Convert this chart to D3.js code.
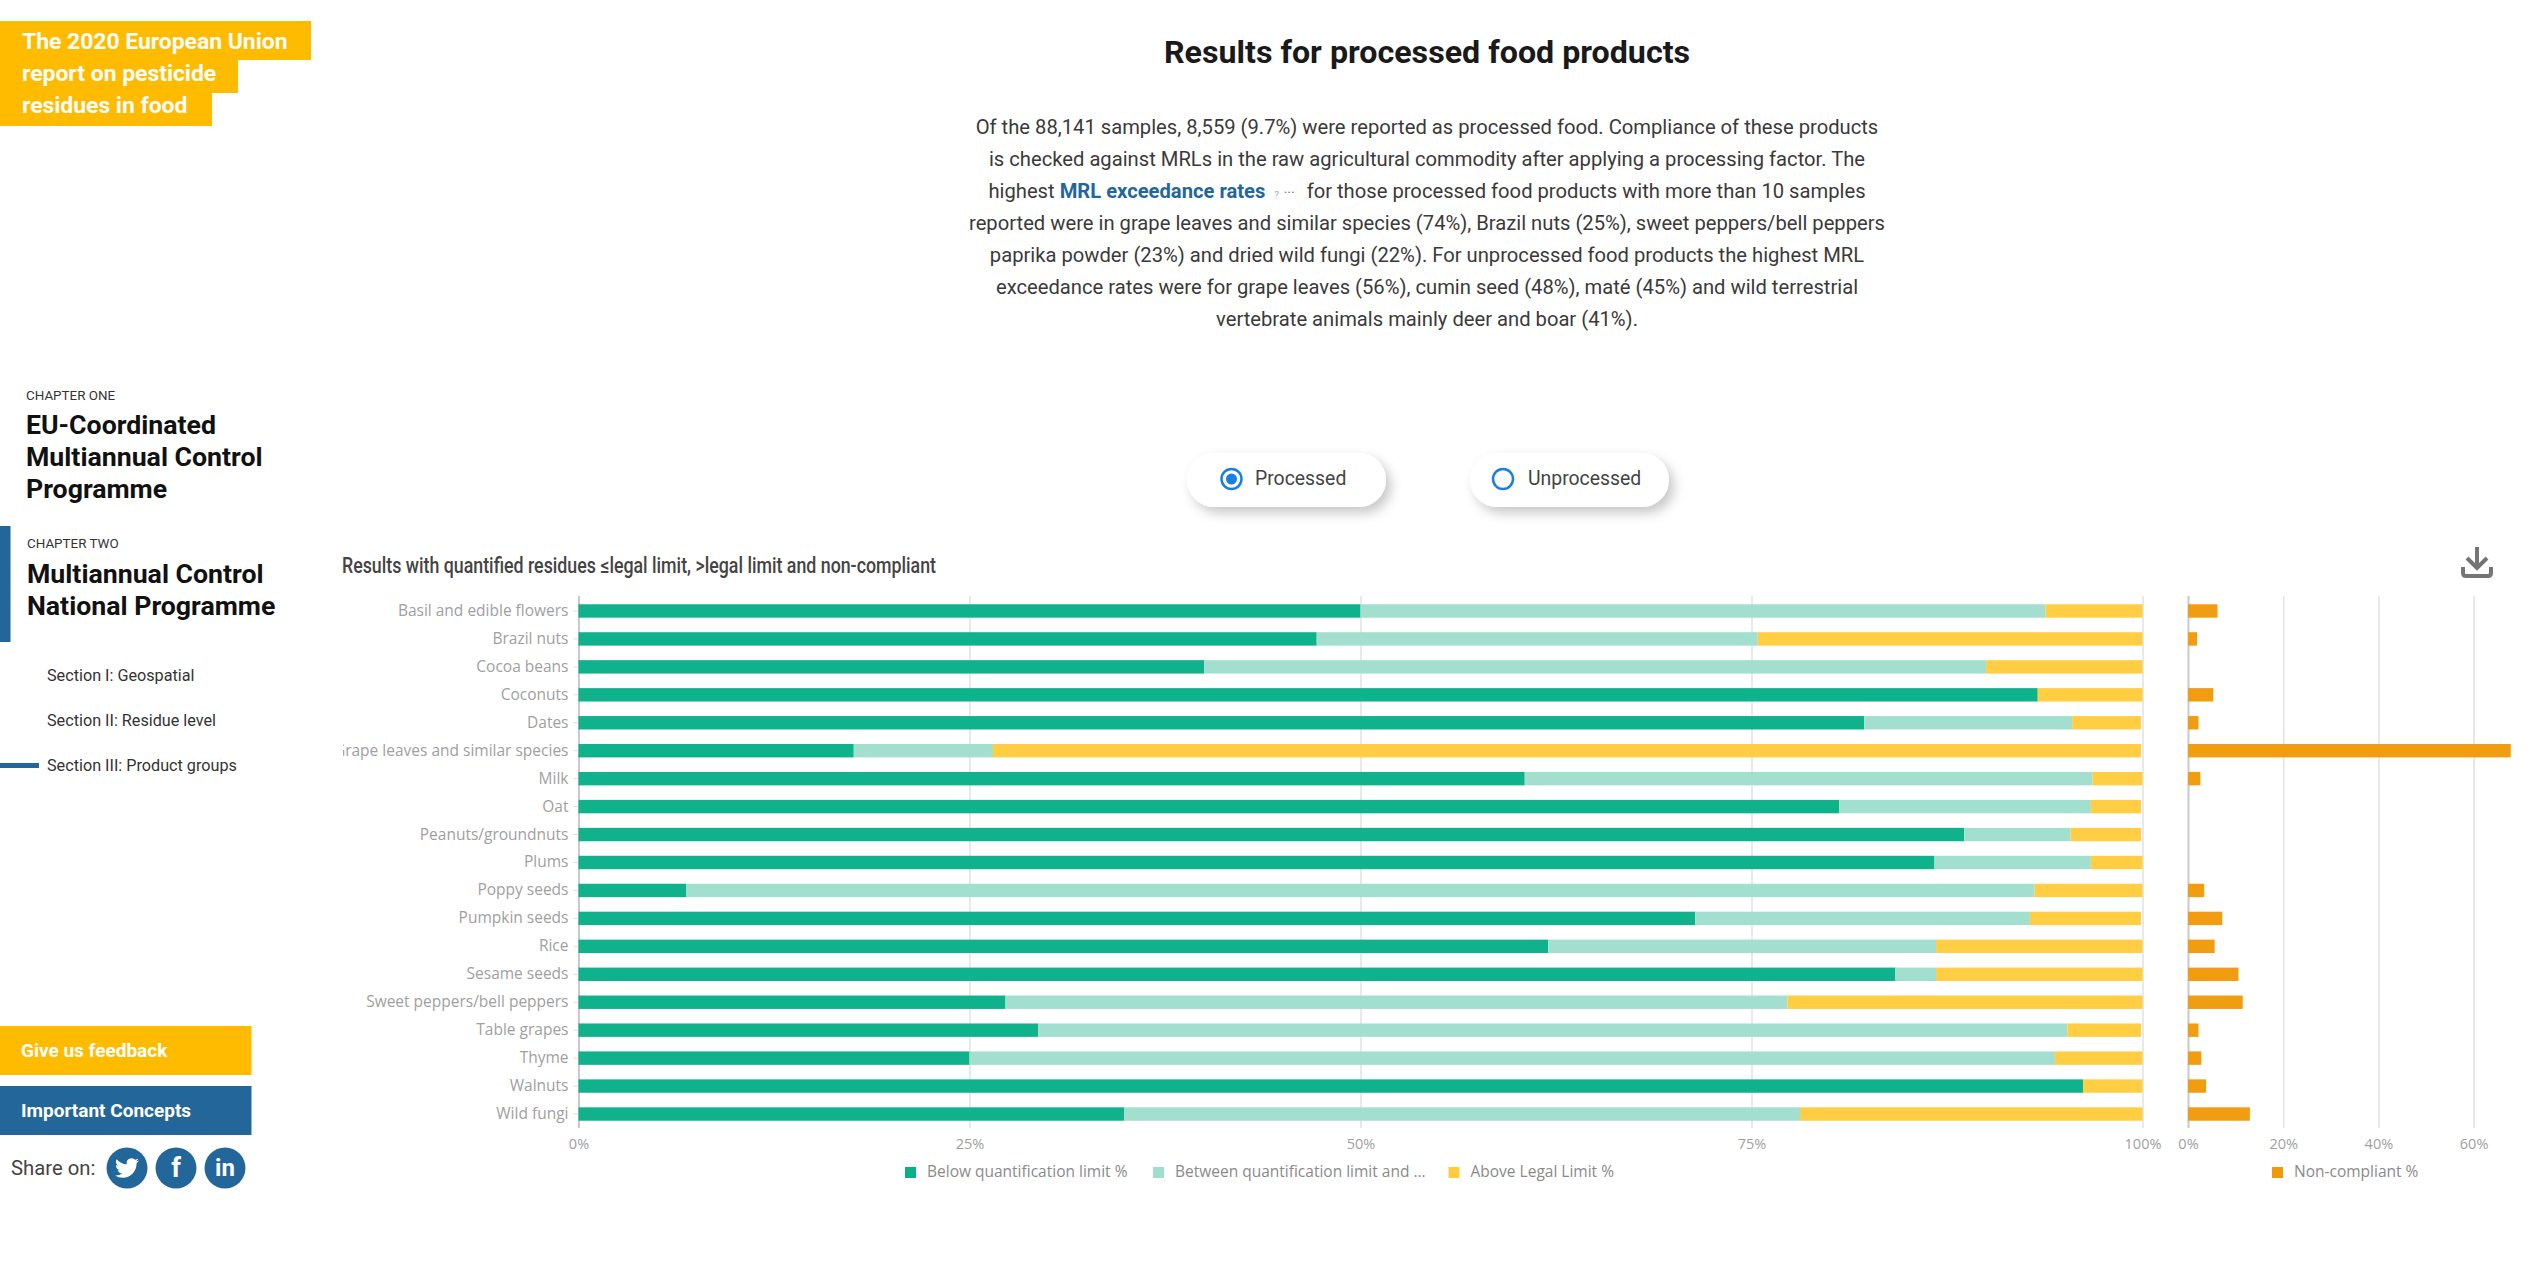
<!DOCTYPE html>
<html>
<head>
<meta charset="utf-8">
<title>Results for processed food products</title>
<script src="https://cdn.jsdelivr.net/npm/d3@7"></script>
<style>
  html, body { margin: 0; padding: 0; background: #fff; }
  svg { display: block; font-family: Roboto, sans-serif; }
  .chart-tick text { font-family: "Open Sans", sans-serif; fill: #a0a0a0; }
</style>
</head>
<body>
<div id="vis"></div>
<script>
// values, all in %
var categories = ["Basil and edible flowers", "Brazil nuts", "Cocoa beans", "Coconuts", "Dates",
  "Grape leaves and similar species", "Milk", "Oat", "Peanuts/groundnuts", "Plums", "Poppy seeds",
  "Pumpkin seeds", "Rice", "Sesame seeds", "Sweet peppers/bell peppers", "Table grapes", "Thyme",
  "Walnuts", "Wild fungi"];
var belowQuant = [50, 47.2, 40, 93.3, 82.2, 17.6, 60.5, 80.6, 88.6, 86.7, 6.9, 71.4, 62, 84.2, 27.3, 29.4, 25, 96.2, 34.9];
var betweenQuant = [43.8, 28.2, 50, 0, 13.3, 8.9, 36.3, 16.1, 6.8, 10, 86.2, 21.4, 24.8, 2.6, 50, 65.8, 69.4, 0, 43.2];
var aboveLimit = [6.2, 24.6, 10, 6.7, 4.4, 73.4, 3.2, 3.2, 4.5, 3.3, 6.9, 7.1, 13.2, 13.2, 22.7, 4.7, 5.6, 3.8, 21.9];
var nonCompliant = [6.2, 1.9, 0, 5.3, 2.2, 67.8, 2.6, 0, 0, 0, 3.4, 7.2, 5.6, 10.6, 11.5, 2.2, 2.8, 3.8, 13];

var stackKeys = ["Below quantification limit %", "Between quantification limit and ...", "Above Legal Limit %"];
var stackColors = ["#08b087", "#a0decc", "#ffcc3c"];
var nonCompliantKey = "Non-compliant %";
var nonCompliantColor = "#f09a09";
var stackTicks = [0, 25, 50, 75, 100];
var nonCompliantTicks = [0, 20, 40, 60];

var paragraph = [
  "Of the 88,141 samples, 8,559 (9.7%) were reported as processed food. Compliance of these products",
  "is checked against MRLs in the raw agricultural commodity after applying a processing factor. The",
  null,
  "reported were in grape leaves and similar species (74%), Brazil nuts (25%), sweet peppers/bell peppers",
  "paprika powder (23%) and dried wild fungi (22%). For unprocessed food products the highest MRL",
  "exceedance rates were for grape leaves (56%), cumin seed (48%), maté (45%) and wild terrestrial",
  "vertebrate animals mainly deer and boar (41%)."
];

var width = 2543,
    height = 1265;
var blue = "#23679a",
    amber = "#ffbb00";

var svg = d3.select("#vis").append("svg")
    .attr("width", width)
    .attr("height", height);

var defs = svg.append("defs");
defs.append("clipPath").attr("id", "label-clip")
    .append("rect").attr("x", 343).attr("y", 590).attr("width", 235).attr("height", 545);
var shadow = defs.append("filter").attr("id", "pill-shadow")
    .attr("x", "-20%").attr("y", "-30%").attr("width", "150%").attr("height", "180%");
shadow.append("feDropShadow").attr("dx", 5).attr("dy", 6).attr("stdDeviation", 6)
    .attr("flood-color", "#000").attr("flood-opacity", 0.22);

function addText(parent, x, y, str, size, weight, color, anchor) {
  return parent.append("text")
      .attr("x", x)
      .attr("y", y)
      .attr("dy", "0.35em")
      .attr("text-anchor", anchor || "start")
      .style("font-size", size + "px")
      .style("font-weight", weight)
      .style("fill", color)
      .text(str);
}

// ---- sidebar
var side = svg.append("g");
[[21, 39, 311], [60, 33, 238], [93, 33, 212]].forEach(function (b) {
  side.append("rect").attr("x", 0).attr("y", b[0]).attr("width", b[2]).attr("height", b[1]).attr("fill", amber);
});
addText(side, 22, 41, "The 2020 European Union", 22.9, 700, "#fff");
addText(side, 22, 73, "report on pesticide", 22.9, 700, "#fff");
addText(side, 22, 105, "residues in food", 22.9, 700, "#fff");

addText(side, 26, 395, "CHAPTER ONE", 13.4, 400, "#333");
addText(side, 26, 425, "EU-Coordinated", 26.7, 700, "#111");
addText(side, 26, 457, "Multiannual Control", 26.7, 700, "#111");
addText(side, 26, 489, "Programme", 26.7, 700, "#111");

side.append("rect").attr("x", 0).attr("y", 526).attr("width", 10.5).attr("height", 116).attr("fill", blue);
addText(side, 27, 543, "CHAPTER TWO", 13.4, 400, "#333");
addText(side, 27, 574, "Multiannual Control", 26.7, 700, "#111");
addText(side, 27, 606, "National Programme", 26.7, 700, "#111");

addText(side, 47, 675, "Section I: Geospatial", 16.2, 400, "#333");
addText(side, 47, 720, "Section II: Residue level", 16.2, 400, "#333");
addText(side, 47, 765, "Section III: Product groups", 16.2, 400, "#333");
side.append("rect").attr("x", 0).attr("y", 763).attr("width", 39).attr("height", 5).attr("fill", blue);

side.append("rect").attr("x", 0).attr("y", 1026).attr("width", 251.5).attr("height", 49).attr("fill", amber);
addText(side, 21, 1050, "Give us feedback", 19, 700, "#fff");
side.append("rect").attr("x", 0).attr("y", 1086).attr("width", 251.5).attr("height", 49).attr("fill", blue);
addText(side, 21, 1110, "Important Concepts", 19, 700, "#fff");

addText(side, 11, 1168, "Share on:", 20.3, 400, "#444");
[127, 176, 225].forEach(function (cx) {
  side.append("circle").attr("cx", cx).attr("cy", 1168).attr("r", 20.5).attr("fill", blue);
});
side.append("path")
    .attr("transform", "translate(115,1156) scale(1)")
    .attr("fill", "#fff")
    .attr("d", "M23.953 4.57a10 10 0 01-2.825.775 4.958 4.958 0 002.163-2.723c-.951.555-2.005.959-3.127 1.184a4.92 4.92 0 00-8.384 4.482C7.69 8.095 4.067 6.13 1.64 3.162a4.822 4.822 0 00-.666 2.475c0 1.71.87 3.213 2.188 4.096a4.904 4.904 0 01-2.228-.616v.06a4.923 4.923 0 003.946 4.827 4.996 4.996 0 01-2.212.085 4.936 4.936 0 004.604 3.417 9.867 9.867 0 01-6.102 2.105c-.39 0-.779-.023-1.17-.067a13.995 13.995 0 007.557 2.209c9.053 0 13.998-7.496 13.998-13.985 0-.21 0-.42-.015-.63A9.935 9.935 0 0024 4.59z");
addText(side, 176, 1168, "f", 27, 700, "#fff", "middle");
addText(side, 225, 1168, "in", 24, 700, "#fff", "middle");

// ---- heading and intro text
addText(svg, 1427, 52, "Results for processed food products", 32.2, 700, "#1a1a1a", "middle");

paragraph.forEach(function (line, i) {
  var t = addText(svg, 1427, 127 + i * 32, line, 20.2, 400, "#3a3a3a", "middle");
  if (line === null) {
    t.append("tspan").text("highest ");
    t.append("tspan").style("font-weight", 700).style("fill", blue).text("MRL exceedance rates");
    t.append("tspan").attr("dx", 9).style("font-size", "9px").style("fill", "#8aa9c0").text("?");
    t.append("tspan").attr("dx", 5).style("font-size", "14px").style("fill", "#777").text("···");
    t.append("tspan").attr("dx", 12).text("for those processed food products with more than 10 samples");
  }
});

// ---- radio pills
var pills = [{x: 1187, label: "Processed", on: true}, {x: 1470, label: "Unprocessed", on: false}];
pills.forEach(function (p) {
  svg.append("rect")
      .attr("x", p.x).attr("y", 453).attr("width", 199).attr("height", 54).attr("rx", 27)
      .attr("fill", "#fff").attr("filter", "url(#pill-shadow)");
  svg.append("circle")
      .attr("cx", p.x + (p.on ? 44.5 : 33)).attr("cy", 479).attr("r", 10)
      .attr("fill", "none").attr("stroke", "#1a7fe3").attr("stroke-width", 2.5);
  if (p.on) {
    svg.append("circle").attr("cx", p.x + 44.5).attr("cy", 479).attr("r", 5.5).attr("fill", "#1a7fe3");
  }
  addText(svg, p.x + (p.on ? 68 : 58), 478, p.label, 19.4, 400, "#444");
});

// ---- chart title and download icon
addText(svg, 342, 565, "Results with quantified residues ≤legal limit, >legal limit and non-compliant", 21.5, 500, "#444")
    .attr("textLength", 594)
    .attr("lengthAdjust", "spacingAndGlyphs");

var dl = svg.append("g").attr("fill", "none").attr("stroke", "#757575").attr("stroke-width", 4);
dl.append("path").attr("d", "M2477 547V567M2467 558L2477 568L2487 558");
dl.append("path").attr("d", "M2463 567V573Q2463 576 2466 576H2488Q2491 576 2491 573V567");

// ---- scales
var y = d3.scaleBand().domain(categories).range([597, 1128]).paddingInner(0.52).paddingOuter(0.26);
var xStack = d3.scaleLinear().domain([0, 100]).range([578.5, 2142.5]);
var xNon = d3.scaleLinear().domain([0, 60]).range([2188, 2473.6]);

// ---- axes first, the grid shows faintly through the bars
function pct(d) { return d + "%"; }

function drawBottom(scale, ticks) {
  var g = svg.append("g")
      .attr("class", "chart-tick")
      .attr("transform", "translate(0,1128)")
      .call(d3.axisBottom(scale).tickValues(ticks).tickFormat(pct).tickSize(-532).tickPadding(11));
  g.select(".domain").remove();
  g.selectAll("line").attr("stroke", function (d) { return d === 0 ? "#c9c9c9" : "#e2e2e2"; })
      .attr("stroke-width", function (d) { return d === 0 ? 2 : 1.5; });
  g.selectAll("text").style("font-size", "14.5px");
}
drawBottom(xStack, stackTicks);
drawBottom(xNon, nonCompliantTicks);

// clip on a wrapper so the clip box stays in page coordinates
var yAxis = svg.append("g")
    .attr("clip-path", "url(#label-clip)")
    .append("g")
    .attr("class", "chart-tick")
    .attr("transform", "translate(578.5,0)")
    .call(d3.axisLeft(y).tickSize(5).tickPadding(5));
yAxis.select(".domain").remove();
yAxis.selectAll("line").attr("stroke", "#ddd");
yAxis.selectAll("text").style("font-size", "15.5px");

// the stack wants a table, built from the arrays above
var table = categories.map(function (c, i) {
  var row = {category: c};
  row[stackKeys[0]] = belowQuant[i];
  row[stackKeys[1]] = betweenQuant[i];
  row[stackKeys[2]] = aboveLimit[i];
  return row;
});
var series = d3.stack().keys(stackKeys)(table);

svg.append("g").attr("fill-opacity", 0.97).selectAll("g")
    .data(series)
    .enter().append("g")
    .attr("fill", function (d, i) { return stackColors[i]; })
    .selectAll("rect")
    .data(function (d) { return d; })
    .enter().append("rect")
    .attr("x", function (d) { return xStack(d[0]); })
    .attr("y", function (d) { return y(d.data.category); })
    .attr("width", function (d) { return xStack(d[1]) - xStack(d[0]); })
    .attr("height", y.bandwidth());

svg.append("g").attr("fill-opacity", 0.97).selectAll("rect")
    .data(nonCompliant)
    .enter().append("rect")
    .attr("x", xNon(0))
    .attr("y", function (d, i) { return y(categories[i]); })
    .attr("width", function (d) { return xNon(d) - xNon(0); })
    .attr("height", y.bandwidth())
    .attr("fill", nonCompliantColor);

// ---- legends
var legendItems = [
  {label: stackKeys[0], color: stackColors[0], x: 905},
  {label: stackKeys[1], color: stackColors[1], x: 1153},
  {label: stackKeys[2], color: stackColors[2], x: 1448.5},
  {label: nonCompliantKey, color: nonCompliantColor, x: 2272}
];
legendItems.forEach(function (l) {
  svg.append("rect").attr("x", l.x).attr("y", 1167).attr("width", 11).attr("height", 11).attr("fill", l.color);
  addText(svg, l.x + 22, 1172, l.label, 15.5, 400, "#8a8a8a").style("font-family", "'Open Sans', sans-serif");
});
</script>
</body>
</html>
